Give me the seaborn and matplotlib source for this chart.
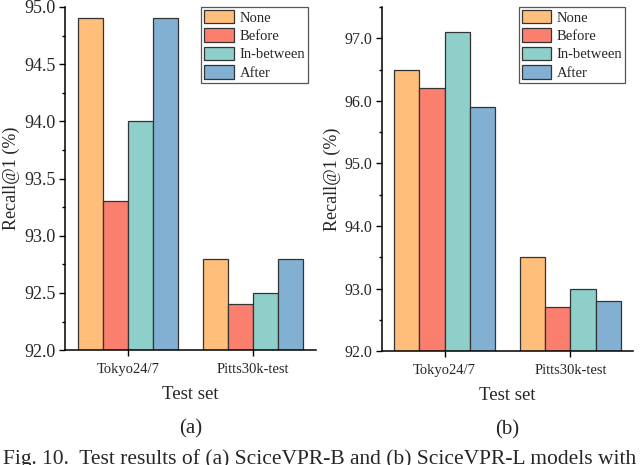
import numpy as np
import pandas as pd
import matplotlib
matplotlib.use("Agg")
import matplotlib.pyplot as plt
from matplotlib.ticker import MultipleLocator, FormatStrFormatter
import seaborn as sns

test_sets = ["Tokyo24/7", "Pitts30k-test"]
positions = ["None", "Before", "In-between", "After"]
colors = ["#FFBE7A", "#FA7F6F", "#8ECFC9", "#82B0D2"]

# Recall@1 values, one list per position, ordered as test_sets
base_none = [94.9, 92.8]
base_before = [93.3, 92.4]
base_between = [94.0, 92.5]
base_after = [94.9, 92.8]

large_none = [96.5, 93.5]
large_before = [96.2, 92.7]
large_between = [97.1, 93.0]
large_after = [95.9, 92.8]


def to_frame(none, before, between, after):
    rows = []
    for pos, vals in zip(positions, [none, before, between, after]):
        for ts, v in zip(test_sets, vals):
            rows.append({"Test set": ts, "Position": pos, "Recall": v})
    return pd.DataFrame(rows)


df_a = to_frame(base_none, base_before, base_between, base_after)
df_b = to_frame(large_none, large_before, large_between, large_after)

sns.set_style("ticks")
plt.rcParams["font.family"] = ["Liberation Serif", "DejaVu Serif"]

fig = plt.figure(figsize=(6.4, 4.65), dpi=100)
ax_a = fig.add_axes([0.1016, 0.247, 0.392, 0.738])
ax_b = fig.add_axes([0.5965, 0.245, 0.393, 0.740])


def draw(ax, df, ylim, major, minor, tag, ysize):
    sns.barplot(data=df, x="Test set", y="Recall", hue="Position",
                hue_order=positions, order=test_sets, palette=colors,
                width=0.8, edgecolor="#333333", linewidth=0.9,
                saturation=1, ax=ax)
    ax.set_ylim(*ylim)
    ax.set_xlim(-0.5, 1.5)
    ax.yaxis.set_major_locator(MultipleLocator(major))
    ax.yaxis.set_minor_locator(MultipleLocator(minor))
    ax.yaxis.set_major_formatter(FormatStrFormatter("%.1f"))
    ax.tick_params(axis="both", which="major", direction="out", length=4.5,
                   width=1, color="black")
    ax.tick_params(axis="y", which="major", labelsize=ysize, pad=2)
    ax.tick_params(axis="x", which="major", labelsize=10.5, pad=5)
    ax.tick_params(axis="y", which="minor", direction="out", length=2.5,
                   width=1, color="black")
    for s in ["top", "right"]:
        ax.spines[s].set_visible(False)
    for s in ["left", "bottom"]:
        ax.spines[s].set_linewidth(1.1)
        ax.spines[s].set_color("black")
    ax.set_ylabel("Recall@1 (%)", fontsize=13, labelpad=3)
    ax.set_xlabel("Test set", fontsize=13.5, labelpad=7)
    w = ax.get_window_extent().width
    leg = ax.legend(loc="upper right", bbox_to_anchor=(1 - 8 / w, 1.0),
                    fontsize=10.5, frameon=True,
                    fancybox=False, edgecolor="#555555", framealpha=1,
                    handlelength=2.0, handleheight=1.05, handletextpad=0.4,
                    labelspacing=0.25, borderpad=0.2, borderaxespad=0.0)
    leg.get_frame().set_linewidth(0.9)
    ax.text(0.5, -0.2, tag, transform=ax.transAxes, ha="center",
            va="top", fontsize=15)


draw(ax_a, df_a, (92.0, 95.0), 0.5, 0.25, "(a)", 13)
draw(ax_b, df_b, (92.0, 97.5), 1.0, 0.5, "(b)", 11.5)

fig.text(0.5, 1 - 449 / 465, "Fig. 10.  Test results of (a) SciceVPR-B and (b) SciceVPR-L models with",
         ha="center", va="top", fontsize=15.5)

fig.savefig("out.png", dpi=100)
